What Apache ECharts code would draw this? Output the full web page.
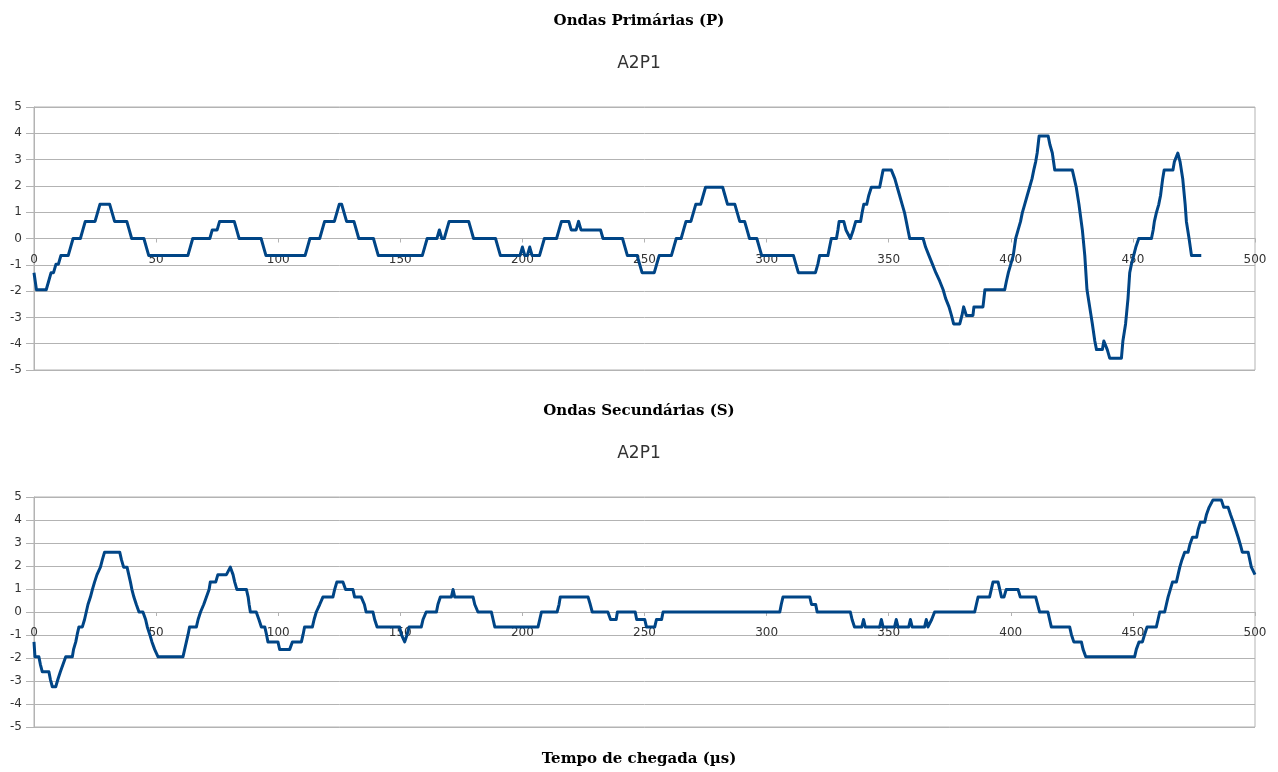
<!DOCTYPE html>
<html>
<head>
<meta charset="utf-8">
<title>Ondas P e S — A2P1</title>
<script src="https://cdn.jsdelivr.net/npm/echarts@6/dist/echarts.min.js"></script>
<style>
  html, body { margin: 0; padding: 0; background: #ffffff; }
  #chart { width: 1278px; height: 772px; }
</style>
</head>
<body>
<div id="chart"></div>
<script>
// Amplitude readings (V) against arrival time (µs); each pair is [tempo, amplitude]
// at the corners of the digitised trace, amplitude step 0.325.
const ondasP = [
  [0,-1.3],[1,-1.95],[5,-1.95],[6,-1.625],[7,-1.3],[8,-1.3],[9,-0.975],[10,-0.975],[11,-0.65],[14,-0.65],
  [15,-0.325],[16,0],[19,0],[20,0.325],[21,0.65],[25,0.65],[26,0.975],[27,1.3],[31,1.3],[32,0.975],
  [33,0.65],[38,0.65],[39,0.325],[40,0],[45,0],[46,-0.325],[47,-0.65],[63,-0.65],[64,-0.325],[65,0],
  [72,0],[73,0.325],[75,0.325],[76,0.65],[82,0.65],[83,0.325],[84,0],[93,0],[94,-0.325],[95,-0.65],
  [111,-0.65],[112,-0.325],[113,0],[117,0],[118,0.325],[119,0.65],[123,0.65],[124,0.975],[125,1.3],[126,1.3],
  [127,0.975],[128,0.65],[131,0.65],[132,0.325],[133,0],[139,0],[140,-0.325],[141,-0.65],[159,-0.65],[160,-0.325],
  [161,0],[165,0],[166,0.325],[167,0],[168,0],[169,0.325],[170,0.65],[178,0.65],[179,0.325],[180,0],
  [189,0],[190,-0.325],[191,-0.65],[199,-0.65],[200,-0.325],[201,-0.65],[202,-0.65],[203,-0.325],[204,-0.65],[207,-0.65],
  [208,-0.325],[209,0],[214,0],[215,0.325],[216,0.65],[219,0.65],[220,0.325],[222,0.325],[223,0.65],[224,0.325],
  [232,0.325],[233,0],[241,0],[242,-0.325],[243,-0.65],[247,-0.65],[248,-0.975],[249,-1.3],[254,-1.3],[255,-0.975],
  [256,-0.65],[261,-0.65],[262,-0.325],[263,0],[265,0],[266,0.325],[267,0.65],[269,0.65],[270,0.975],[271,1.3],
  [273,1.3],[274,1.625],[275,1.95],[282,1.95],[283,1.625],[284,1.3],[287,1.3],[288,0.975],[289,0.65],[291,0.65],
  [292,0.325],[293,0],[296,0],[297,-0.325],[298,-0.65],[311,-0.65],[312,-0.975],[313,-1.3],[320,-1.3],[321,-0.975],
  [321.7,-0.65],[325.1,-0.65],[325.8,-0.325],[326.5,0],[328.6,0],[329.2,0.325],[329.7,0.65],[331.6,0.65],[332.5,0.325],[334.3,0],
  [335.5,0.325],[336.5,0.65],[338.5,0.65],[339.1,0.975],[339.8,1.3],[341,1.3],[341.8,1.625],[342.9,1.95],[346.3,1.95],[347,2.275],
  [347.7,2.6],[351.1,2.6],[352.5,2.275],[353.5,1.95],[354.5,1.625],[355.5,1.3],[356.5,0.975],[357.2,0.65],[357.9,0.325],[358.6,0],
  [364.1,0],[365.1,-0.325],[366.5,-0.65],[367.9,-0.975],[369.3,-1.3],[370.9,-1.625],[372.3,-1.95],[373.3,-2.275],[374.7,-2.6],[375.7,-2.925],
  [376.6,-3.25],[379.1,-3.25],[380,-2.925],[380.7,-2.6],[381.8,-2.925],[384.5,-2.925],[384.9,-2.6],[388.6,-2.6],[389,-2.275],[389.4,-1.95],
  [397.5,-1.95],[398.2,-1.625],[399,-1.3],[400,-0.975],[401,-0.65],[402,0],[403,0.325],[404,0.65],[404.7,0.975],[405.7,1.3],
  [406.7,1.625],[407.7,1.95],[408.7,2.275],[409.4,2.6],[410.2,2.925],[410.8,3.25],[411.2,3.575],[411.6,3.9],[415.3,3.9],[416,3.575],
  [417,3.25],[417.5,2.925],[418,2.6],[425.2,2.6],[426,2.275],[426.8,1.95],[427.9,1.3],[429.3,0.325],[430.3,-0.65],[431.2,-1.95],
  [432.3,-2.6],[433.4,-3.25],[434.4,-3.9],[435.1,-4.225],[437.5,-4.225],[438.1,-3.9],[438.9,-3.9],[439.5,-4.225],[440.5,-4.55],[445.3,-4.55],
  [445.9,-3.9],[447,-3.25],[448,-2.275],[448.7,-1.3],[449.4,-0.975],[450.3,-0.65],[451.2,-0.325],[452.4,0],[457.6,0],[458.3,0.325],
  [458.8,0.65],[459.6,0.975],[460.6,1.3],[461.3,1.625],[462.2,2.275],[462.8,2.6],[466.4,2.6],[467,2.925],[468.4,3.25],[469.3,2.925],
  [470.4,2.275],[471.4,1.3],[471.9,0.65],[473,0],[474,-0.65],[478,-0.65]
];

const ondasS = [
  [0,-1.3],[0.4,-1.95],[2,-1.95],[2.6,-2.275],[3.4,-2.6],[6.1,-2.6],[6.7,-2.925],[7.5,-3.25],[8.9,-3.25],[9.8,-2.925],
  [10.8,-2.6],[11.9,-2.275],[13,-1.95],[15.7,-1.95],[16.2,-1.625],[17.1,-1.3],[17.7,-0.975],[18.4,-0.65],[19.8,-0.65],[20.7,-0.325],
  [21.4,0],[22.1,0.325],[23.1,0.65],[23.9,0.975],[24.8,1.3],[25.8,1.625],[27.2,1.95],[28,2.275],[28.9,2.6],[35.1,2.6],
  [35.8,2.275],[36.7,1.95],[38.1,1.95],[38.8,1.625],[39.5,1.3],[40.1,0.975],[40.9,0.65],[41.9,0.325],[43,0],[44.6,0],
  [45.7,-0.325],[46.4,-0.65],[47.4,-0.975],[48.3,-1.3],[49.4,-1.625],[50.8,-1.95],[61,-1.95],[61.7,-1.625],[62.4,-1.3],[63.1,-0.975],
  [63.7,-0.65],[66.5,-0.65],[67.2,-0.325],[68.2,0],[69.5,0.325],[70.6,0.65],[71.7,0.975],[72.2,1.3],[74.4,1.3],[75.3,1.625],
  [78.8,1.625],[80.4,1.95],[81.5,1.625],[82.2,1.3],[83.1,0.975],[87,0.975],[87.7,0.65],[88.1,0.325],[88.6,0],[91,0],
  [92.1,-0.325],[93.1,-0.65],[94.5,-0.65],[95.2,-0.975],[95.8,-1.3],[99.9,-1.3],[100.6,-1.625],[104.7,-1.625],[105.8,-1.3],[109.5,-1.3],
  [110.2,-0.975],[110.8,-0.65],[114,-0.65],[114.7,-0.325],[115.6,0],[117,0.325],[118.3,0.65],[122.4,0.65],[123.1,0.975],[124,1.3],
  [126.5,1.3],[127.6,0.975],[130.6,0.975],[131.3,0.65],[134,0.65],[135.3,0.325],[136,0],[138.8,0],[139.5,-0.325],[140.5,-0.65],
  [149.7,-0.65],[150.4,-0.975],[151.8,-1.3],[152.8,-0.975],[153.6,-0.65],[158.6,-0.65],[159.3,-0.325],[160.6,0],[164.8,0],[165.4,0.325],
  [166.4,0.65],[170.9,0.65],[171.6,0.975],[172.3,0.65],[179.8,0.65],[180.5,0.325],[181.8,0],[187.3,0],[188,-0.325],[188.7,-0.65],
  [206.4,-0.65],[207.1,-0.325],[207.8,0],[214.2,0],[215,0.325],[215.5,0.65],[226.9,0.65],[227.8,0.325],[228.6,0],[235,0],
  [236.1,-0.325],[238.4,-0.325],[238.9,0],[246.2,0],[246.8,-0.325],[250.1,-0.325],[250.8,-0.65],[254.2,-0.65],[254.9,-0.325],[257,-0.325],
  [257.6,0],[305.4,0],[306,0.325],[306.7,0.65],[317.7,0.65],[318.4,0.325],[320.1,0.325],[320.7,0],[334.3,0],[335,-0.325],
  [336,-0.65],[339,-0.65],[339.7,-0.325],[340.4,-0.65],[346.3,-0.65],[347,-0.325],[347.7,-0.65],[352.4,-0.65],[353.1,-0.325],[353.8,-0.65],
  [358.2,-0.65],[358.9,-0.325],[359.6,-0.65],[364.7,-0.65],[365.4,-0.325],[366.1,-0.65],[366.8,-0.65],[367.6,-0.325],[368.8,0],[385.2,0],
  [385.9,0.325],[386.6,0.65],[391.3,0.65],[392,0.975],[392.7,1.3],[394.8,1.3],[395.5,0.975],[396.2,0.65],[397.2,0.65],[398.1,0.975],
  [403,0.975],[403.9,0.65],[410.2,0.65],[411,0.325],[411.8,0],[415.2,0],[415.9,-0.325],[416.6,-0.65],[424.1,-0.65],[424.8,-0.975],
  [425.8,-1.3],[428.9,-1.3],[429.6,-1.625],[430.7,-1.95],[450.7,-1.95],[451.4,-1.625],[452.5,-1.3],[453.9,-1.3],[454.8,-0.975],[455.8,-0.65],
  [459.6,-0.65],[460.3,-0.325],[461,0],[463,0],[463.7,0.325],[464.4,0.65],[465.3,0.975],[466.2,1.3],[467.8,1.3],[468.5,1.625],
  [469.2,1.95],[470.1,2.275],[471.2,2.6],[472.6,2.6],[473.3,2.925],[474.4,3.25],[476.1,3.25],[476.7,3.575],[477.6,3.9],[479.4,3.9],
  [480.1,4.225],[481.2,4.55],[482.8,4.875],[486.2,4.875],[487.2,4.55],[489,4.55],[490,4.225],[491.1,3.9],[492.1,3.575],[493.1,3.25],
  [494,2.925],[494.8,2.6],[497.2,2.6],[498.5,1.95],[500,1.625]
];

// Axis ranges and tick spacing
const tempoMin = 0, tempoMax = 500, tempoStep = 50;
const ampMin = -5, ampMax = 5, ampStep = 1;

// Headings
const tituloP = 'Ondas Primárias (P)';
const tituloS = 'Ondas Secundárias (S)';
const amostra = 'A2P1';
const eixoTempo = 'Tempo de chegada (µs)';

const gridGray = '#b3b3b3';
const lineBlue = '#004586';
const labelFont = { fontFamily: 'DejaVu Sans', fontSize: 12, color: '#333333' };

// Plot panels (pixels)
const panels = [
  { top: 107, height: 263 },
  { top: 497, height: 230 }
];

function heading(text, top, bold) {
  return {
    text: text,
    left: 'center',
    top: top,
    padding: 0,
    textStyle: bold
      ? { fontFamily: 'DejaVu Serif', fontWeight: 'bold', fontSize: 15, color: '#000000' }
      : { fontFamily: 'DejaVu Sans', fontWeight: 'normal', fontSize: 17, color: '#333333' }
  };
}

// Time axis drawn across the middle of its panel, i.e. on the amplitude zero line
// (amplitude range is symmetric, so zero sits half a panel above the bottom edge).
function xAxisFor(gridIndex) {
  return {
    type: 'value', gridIndex: gridIndex,
    min: tempoMin, max: tempoMax, interval: tempoStep,
    position: 'bottom',
    offset: -panels[gridIndex].height / 2,
    axisLine: { show: true, onZero: false, lineStyle: { color: gridGray, width: 1 } },
    axisTick: { show: true, length: 4, lineStyle: { color: gridGray } },
    axisLabel: Object.assign({ margin: 15, showMinLabel: true, showMaxLabel: true }, labelFont),
    splitLine: { show: false }
  };
}

function yAxisFor(gridIndex) {
  return {
    type: 'value', gridIndex: gridIndex,
    min: ampMin, max: ampMax, interval: ampStep,
    axisLine: { show: true, onZero: false, lineStyle: { color: gridGray, width: 1 } },
    axisTick: { show: true, length: 8, lineStyle: { color: gridGray } },
    axisLabel: Object.assign({ margin: 12 }, labelFont),
    splitLine: { show: true, lineStyle: { color: gridGray, width: 1 } }
  };
}

function trace(data, index) {
  return {
    type: 'line', data: data,
    xAxisIndex: index, yAxisIndex: index,
    showSymbol: false, symbol: 'none',
    lineStyle: { color: lineBlue, width: 3, join: 'round' },
    itemStyle: { color: lineBlue },
    animation: false, silent: true, z: 3
  };
}

const chart = echarts.init(document.getElementById('chart'), null, { renderer: 'canvas' });
chart.setOption({
  backgroundColor: '#ffffff',
  animation: false,
  title: [
    heading(tituloP, 14, true),
    heading(amostra, 55, false),
    heading(tituloS, 404, true),
    heading(amostra, 445, false),
    heading(eixoTempo, 752, true)
  ],
  grid: panels.map(function (p) {
    return { left: 34, right: 23, top: p.top, height: p.height, show: true,
             borderColor: gridGray, borderWidth: 1, containLabel: false };
  }),
  xAxis: [xAxisFor(0), xAxisFor(1)],
  yAxis: [yAxisFor(0), yAxisFor(1)],
  series: [trace(ondasP, 0), trace(ondasS, 1)]
});
</script>
</body>
</html>
